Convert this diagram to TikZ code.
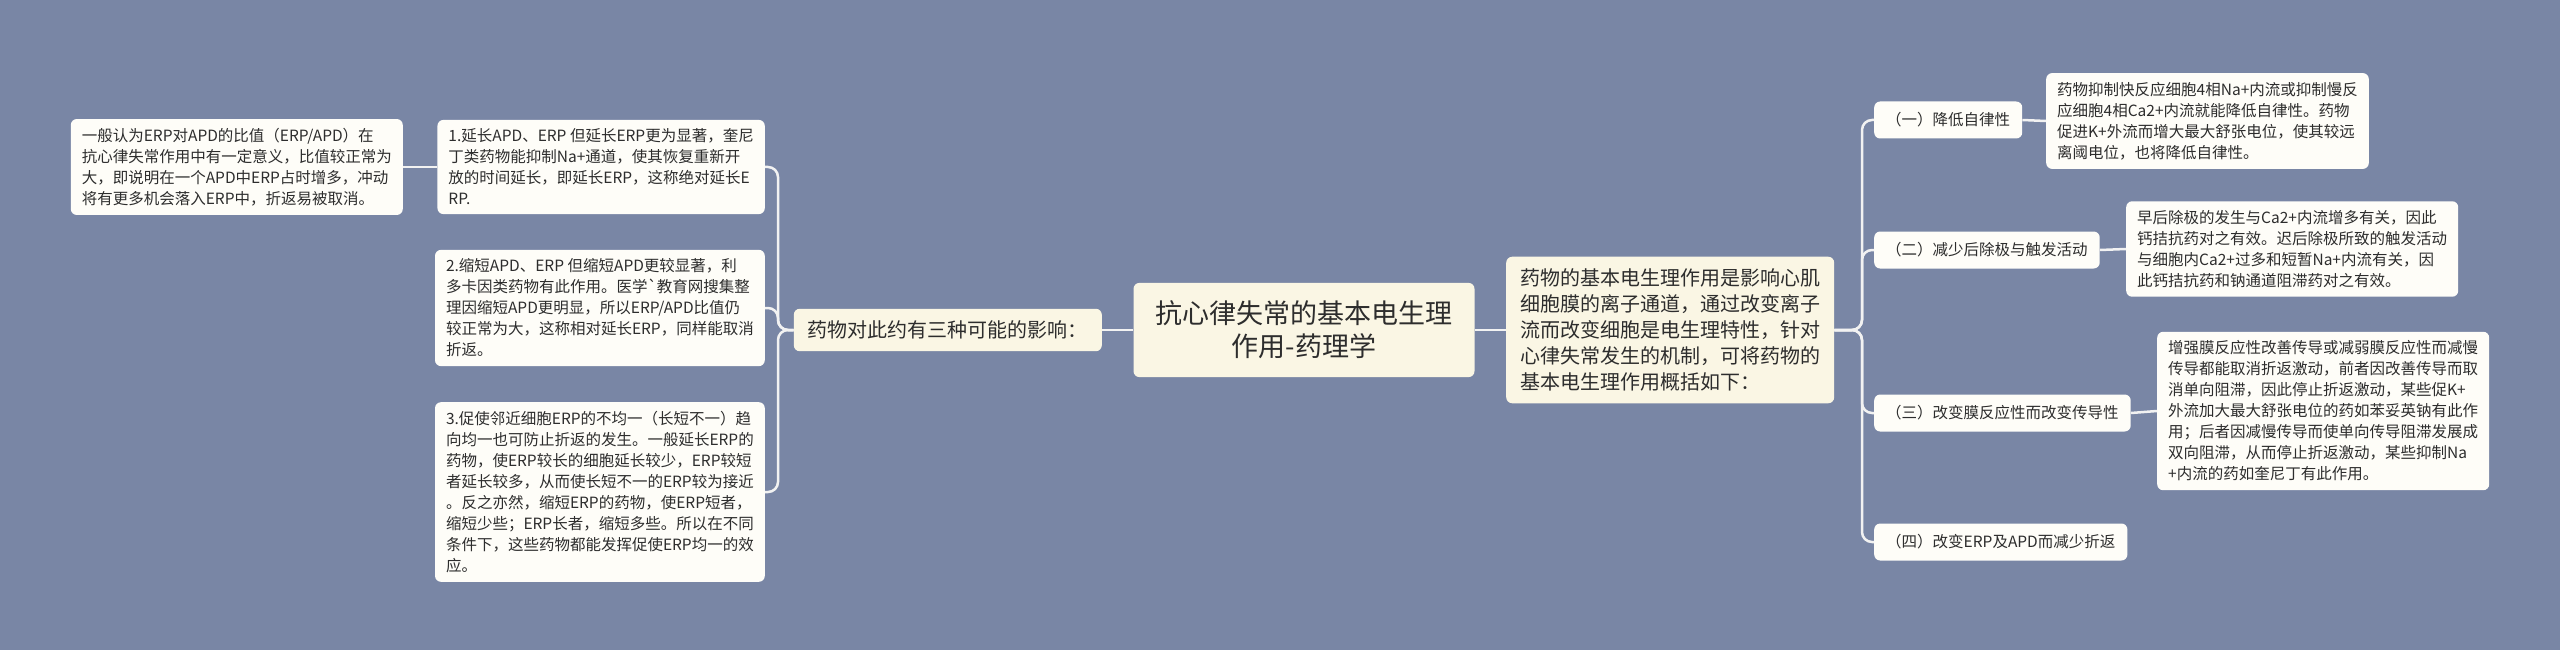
\documentclass[tikz,border=0pt]{standalone}
\usepackage{fontspec}
\setmainfont{Noto Sans CJK SC}

\definecolor{bgblue}{RGB}{121,134,165}
\definecolor{cream}{RGB}{250,246,228}
\definecolor{paper}{RGB}{254,253,248}
\definecolor{ink}{RGB}{45,45,45}
\definecolor{wire}{RGB}{242,242,242}

\tikzstyle{leafblock} = [rectangle, fill=paper, text=ink, rounded corners=6pt, align=left, inner xsep=11pt, inner ysep=9pt, font=\fontsize{15.5}{21}\selectfont]
\tikzstyle{itemblock} = [leafblock, minimum height=37pt, inner xsep=12pt, inner ysep=6pt]
\tikzstyle{branchblock} = [rectangle, fill=cream, text=ink, rounded corners=6pt, align=left, inner xsep=14pt, inner ysep=12pt, font=\fontsize{20}{26}\selectfont]
\tikzstyle{mainblock} = [branchblock, align=center, inner xsep=22pt, inner ysep=18pt, font=\fontsize{27}{33}\selectfont]
\tikzstyle{line} = [draw=wire, line width=2.5pt, rounded corners=10pt]

\begin{document}
\begin{tikzpicture}[x=1pt, y=-1pt]

    % background
        \useasboundingbox (0,0) rectangle (2560,650);
        \fill[bgblue] (0,0) rectangle (2560,650);

    % MAIN TOPIC
        \node [mainblock] at (1304,330)
            (topic) {抗心律失常的基本电生理\\作用-药理学};

    % LEFT BRANCH
        \node [branchblock, anchor=east] at (1102,330)
            (lbranch) {药物对此约有三种可能的影响：};
    % RIGHT BRANCH
        \node [branchblock, anchor=west] at (1506,330)
            (rbranch) {药物的基本电生理作用是影响心肌\\细胞膜的离子通道，通过改变离子\\流而改变细胞是电生理特性，针对\\心律失常发生的机制，可将药物的\\基本电生理作用概括如下：};

    % LEFT LEAVES
        \node [leafblock, anchor=east] at (765,167)
            (lone) {1.延长APD、ERP 但延长ERP更为显著，奎尼\\丁类药物能抑制Na+通道，使其恢复重新开\\放的时间延长，即延长ERP，这称绝对延长E\\RP.};
        \node [leafblock, anchor=east] at (765,308)
            (ltwo) {2.缩短APD、ERP 但缩短APD更较显著，利\\多卡因类药物有此作用。医学\textasciigrave 教育网搜集整\\理因缩短APD更明显，所以ERP/APD比值仍\\较正常为大，这称相对延长ERP，同样能取消\\折返。};
        \node [leafblock, anchor=east] at (765,492)
            (lthree) {3.促使邻近细胞ERP的不均一（长短不一）趋\\向均一也可防止折返的发生。一般延长ERP的\\药物，使ERP较长的细胞延长较少，ERP较短\\者延长较多，从而使长短不一的ERP较为接近\\。反之亦然，缩短ERP的药物，使ERP短者，\\缩短少些；ERP长者，缩短多些。所以在不同\\条件下，这些药物都能发挥促使ERP均一的效\\应。};
        \node [leafblock, anchor=east] at (403,167)
            (lnote) {一般认为ERP对APD的比值（ERP/APD）在\\抗心律失常作用中有一定意义，比值较正常为\\大，即说明在一个APD中ERP占时增多，冲动\\将有更多机会落入ERP中，折返易被取消。};

    % RIGHT ITEMS
        \node [itemblock, anchor=west] at (1874,120)
            (rone) {（一）降低自律性};
        \node [itemblock, anchor=west] at (1874,250)
            (rtwo) {（二）减少后除极与触发活动};
        \node [itemblock, anchor=west] at (1874,413)
            (rthree) {（三）改变膜反应性而改变传导性};
        \node [itemblock, anchor=west] at (1874,542)
            (rfour) {（四）改变ERP及APD而减少折返};

    % RIGHT DETAILS
        \node [leafblock, anchor=west] at (2046,121)
            (done) {药物抑制快反应细胞4相Na+内流或抑制慢反\\应细胞4相Ca2+内流就能降低自律性。药物\\促进K+外流而增大最大舒张电位，使其较远\\离阈电位，也将降低自律性。};
        \node [leafblock, anchor=west] at (2126,249)
            (dtwo) {早后除极的发生与Ca2+内流增多有关，因此\\钙拮抗药对之有效。迟后除极所致的触发活动\\与细胞内Ca2+过多和短暂Na+内流有关，因\\此钙拮抗药和钠通道阻滞药对之有效。};
        \node [leafblock, anchor=west] at (2157,411)
            (dthree) {增强膜反应性改善传导或减弱膜反应性而减慢\\传导都能取消折返激动，前者因改善传导而取\\消单向阻滞，因此停止折返激动，某些促K+\\外流加大最大舒张电位的药如苯妥英钠有此作\\用；后者因减慢传导而使单向传导阻滞发展成\\双向阻滞，从而停止折返激动，某些抑制Na\\+内流的药如奎尼丁有此作用。};

    % fork points
        \coordinate (lfork) at (778,330);
        \coordinate (rfork) at (1862,330);

    % LINE topic -> branches
        \path[line] (topic.west) -- (lbranch.east);
        \path[line] (topic.east) -- (rbranch.west);
    % LINE lbranch -> leaves
        \path[line] (lbranch.west) -- (lfork) |- (lone.east);
        \path[line] (lbranch.west) -- (lfork) |- (ltwo.east);
        \path[line] (lbranch.west) -- (lfork) |- (lthree.east);
        \path[line] (lone.west) -- (lnote.east);
    % LINE rbranch -> items
        \path[line] (rbranch.east) -- (rfork) |- (rone.west);
        \path[line] (rbranch.east) -- (rfork) |- (rtwo.west);
        \path[line] (rbranch.east) -- (rfork) |- (rthree.west);
        \path[line] (rbranch.east) -- (rfork) |- (rfour.west);
    % LINE items -> details
        \path[line] (rone.east) -- (done.west);
        \path[line] (rtwo.east) -- (dtwo.west);
        \path[line] (rthree.east) -- (dthree.west);

\end{tikzpicture}
\end{document}
